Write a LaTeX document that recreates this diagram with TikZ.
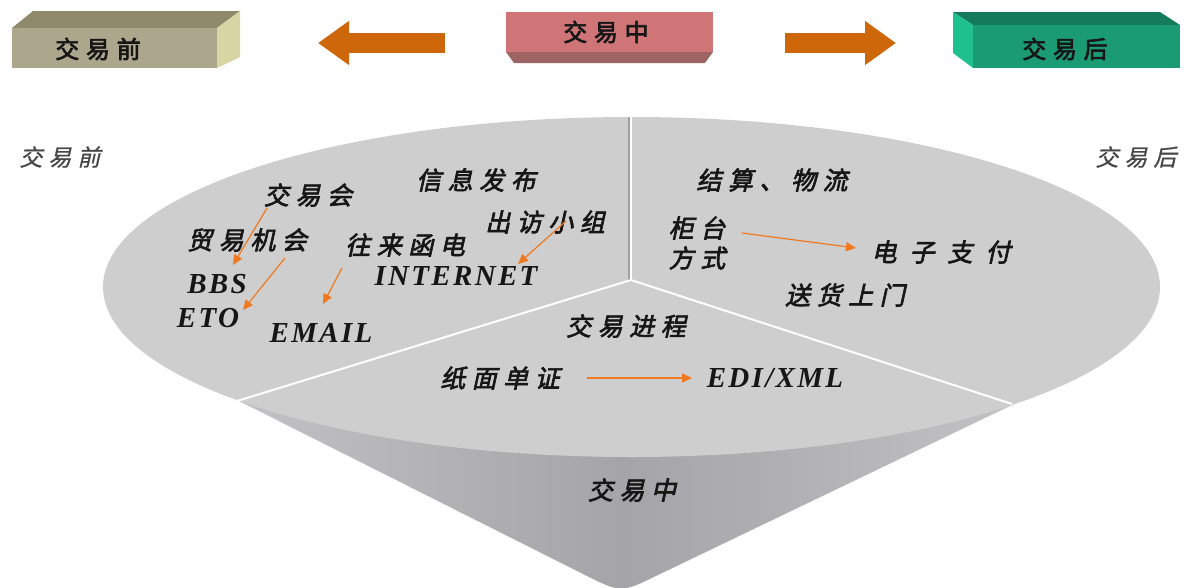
\documentclass[tikz,border=0pt]{standalone}
\usepackage{fontspec}
\setmainfont{Liberation Serif}
\newfontfamily\cjk[FakeSlant=0.22,FakeBold=2.6,LetterSpace=26]{Noto Sans CJK SC}
\newfontfamily\cjkw[FakeSlant=0.22,FakeBold=2.6,LetterSpace=52]{Noto Sans CJK SC}
\newfontfamily\cjkout[FakeSlant=0.22,FakeBold=0.8,LetterSpace=26]{Noto Sans CJK SC}
\newfontfamily\cjkup[FakeBold=2.8,LetterSpace=28]{Noto Sans CJK SC}
\newfontfamily\lat[LetterSpace=8]{Liberation Serif}
\usetikzlibrary{arrows.meta}
\definecolor{txt}{RGB}{22,22,22}
\definecolor{lbl}{RGB}{70,70,70}
\definecolor{bigar}{RGB}{206,102,10}
\definecolor{smallar}{RGB}{240,120,30}
\definecolor{pie}{RGB}{206,206,206}
\definecolor{coneedge}{RGB}{194,194,196}
\definecolor{conemid}{RGB}{164,164,169}
\definecolor{kfront}{RGB}{171,166,140}
\definecolor{ktop}{RGB}{143,138,108}
\definecolor{kside}{RGB}{214,213,163}
\definecolor{rfront}{RGB}{207,117,120}
\definecolor{rbot}{RGB}{156,101,100}
\definecolor{gfront}{RGB}{26,155,114}
\definecolor{gtop}{RGB}{21,122,90}
\definecolor{gside}{RGB}{30,192,142}
\tikzset{
  cn/.style={font=\cjk\fontsize{25}{25}\selectfont, text=txt, inner sep=0pt},
  cnw/.style={font=\cjkw\fontsize{25}{25}\selectfont, text=txt, inner sep=0pt},
  cnout/.style={font=\cjkout\fontsize{23}{23}\selectfont, text=lbl, inner sep=0pt},
  boxtxt/.style={font=\cjkup\fontsize{24}{24}\selectfont, text=txt, inner sep=0pt},
  en/.style={font=\lat\bfseries\itshape\fontsize{29}{29}\selectfont, text=txt, inner sep=0pt},
  bigarrow/.style={draw=bigar, line width=20pt, -{Triangle[length=31pt 0 0, width=42pt 0]}},
  smallarrow/.style={draw=smallar, line width=1.2pt, -{Triangle[length=10pt 0 0, width=9pt 0]}},
  divider/.style={draw=white, line width=2pt}
}
\begin{document}
\begin{tikzpicture}[x=1pt,y=-1pt]
\useasboundingbox (0,0) rectangle (1192,587);
\fill[white] (0,0) rectangle (1192,587);

% ---- top boxes ----
% left (before)
\fill[ktop] (12,28) -- (33,11) -- (240,11) -- (217,28) -- cycle;
\fill[kside] (217,28) -- (240,11) -- (240,57) -- (217,68) -- cycle;
\fill[kfront] (12,28) rectangle (217,68);
\node[boxtxt] (bxpre) at (98,49) {交易前};
% middle (during)
\fill[rbot] (506,52) -- (713,52) -- (705,63) -- (514,63) -- cycle;
\fill[rfront] (506,12) rectangle (713,52);
\node[boxtxt] (bxmid) at (606,32) {交易中};
% right (after)
\fill[gtop] (953,12) -- (1160,12) -- (1180,25) -- (973,25) -- cycle;
\fill[gside] (953,12) -- (973,25) -- (973,68) -- (953,53) -- cycle;
\fill[gfront] (973,25) rectangle (1180,68);
\node[boxtxt] (bxpost) at (1065,49) {交易后};

% big arrows
\coordinate (la1) at (445,43);
\coordinate (la2) at (318,43);
\coordinate (ra1) at (785,43);
\coordinate (ra2) at (896,43);
\draw[bigarrow] (la1) -- (la2);
\draw[bigarrow] (ra1) -- (ra2);

% ---- pie / cone ----
\shade[left color=coneedge, right color=coneedge, middle color=conemid]
  (237,400) -- (585,575) .. controls (621,593) .. (657,575.5) -- (1012,405) -- cycle;
\fill[pie] (631.5,287) ellipse [x radius=528.5, y radius=170];
\coordinate (ctr) at (631,280);
\coordinate (dtop) at (631,117);
\coordinate (dleft) at (237,401);
\coordinate (dright) at (1012,404);
\draw[draw=gray!75, line width=1.5pt] ([xshift=-2pt]ctr) -- ([xshift=-2pt]dtop);
\draw[divider] (ctr) -- (dtop);
\draw[divider] (ctr) -- (dleft);
\draw[divider] (ctr) -- (dright);

% outside labels
\node[cnout] (opre) at (60,157) {交易前};
\node[cnout] (opost) at (1136,157) {交易后};

% left sector
\node[cn] (jyh) at (308,195) {交易会};
\node[cn] (xxfb) at (476,180) {信息发布};
\node[cn] (cfxz) at (545,222) {出访小组};
\node[cn] (myjh) at (247,240) {贸易机会};
\node[cn] (wlhd) at (405,245) {往来函电};
\node[en] (inet) at (456,276) {INTERNET};
\node[en] (bbs) at (217,284) {BBS};
\node[en] (eto) at (208,318) {ETO};
\node[en] (email) at (321,333) {EMAIL};

% right sector
\node[cn] (jswl) at (772,180) {结算、物流};
\node[cn] (gt) at (697,228) {柜台};
\node[cn] (fs) at (697,258) {方式};
\node[cnw] (dzzf) at (941,252) {电子支付};
\node[cn] (shsm) at (845,295) {送货上门};

% bottom sector
\node[cn] (jyjc) at (626,326) {交易进程};
\node[cn] (zmdz) at (500,378) {纸面单证};
\node[en] (edi) at (775,378) {EDI/XML};
\node[cn] (jyz) at (632,490) {交易中};

% small arrows
\coordinate (s1a) at (267,208);
\coordinate (s1b) at (233,265);
\coordinate (s2a) at (285,258);
\coordinate (s2b) at (243,310);
\coordinate (s3a) at (342,268);
\coordinate (s3b) at (323,304);
\coordinate (s4a) at (566,221);
\coordinate (s4b) at (518,264);
\coordinate (s5a) at (742,233);
\coordinate (s5b) at (856,248);
\coordinate (s6a) at (587,378);
\coordinate (s6b) at (692,378);
\draw[smallarrow] (s1a) -- (s1b);
\draw[smallarrow] (s2a) -- (s2b);
\draw[smallarrow] (s3a) -- (s3b);
\draw[smallarrow] (s4a) -- (s4b);
\draw[smallarrow] (s5a) -- (s5b);
\draw[smallarrow] (s6a) -- (s6b);
\end{tikzpicture}
\end{document}
